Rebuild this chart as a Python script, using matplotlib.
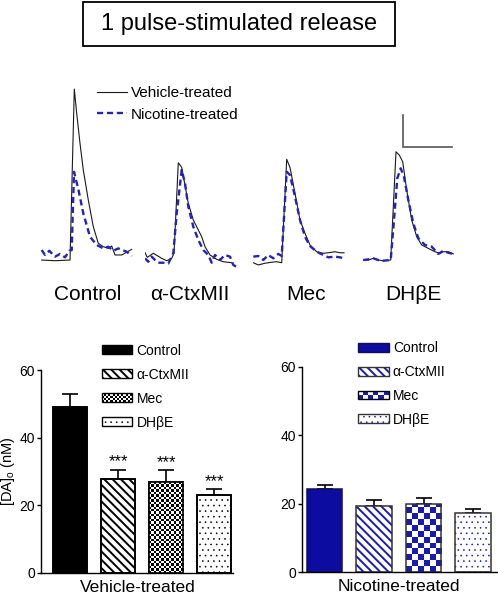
import numpy as np
import matplotlib
matplotlib.use('Agg')
import matplotlib.pyplot as plt
from matplotlib.patches import Rectangle, Patch
from matplotlib.lines import Line2D
from matplotlib.colors import ListedColormap
from matplotlib.legend_handler import HandlerBase

plt.rcParams['font.family'] = ['Liberation Sans', 'DejaVu Sans']
plt.rcParams['hatch.linewidth'] = 1.4

# ---------------- data ----------------
title = "1 pulse-stimulated release"
conditions = ["Control", "\u03b1-CtxMII", "Mec", "DH\u03b2E"]

# traces (time in arbitrary ms, signal in arbitrary units, baseline ~0)
veh_t = {
    "Control": [1.7, 15, 30, 34.3, 36.7, 40, 43.3, 48.3, 53.3, 58.3, 63.3, 68.3, 71.7, 75, 81.7, 91.7],
    "\u03b1-CtxMII": [0, 2.3, 8.3, 16.7, 21.7, 26.7, 29, 33.3, 36.7, 39, 43.3, 48.3, 53.3, 56.7, 60, 65, 71.7, 78.3, 86.7],
    "Mec": [0.3, 5.3, 12, 18.7, 23.7, 28.7, 33.7, 37, 42, 47, 52, 57, 63.7, 70.3, 75.3, 82, 87, 91],
    "DH\u03b2E": [0.3, 5.3, 10.3, 15.3, 20.3, 27.7, 33, 36.3, 39.7, 43.7, 48.7, 53.7, 58.7, 65.3, 72, 77, 80.3, 85.3, 90.3],
}
veh_v = {
    "Control": [-1.2, -1.6, -1.2, 100, 85.6, 67.9, 52.1, 34.3, 18.5, 8.7, 6.7, 5.7, 7.1, 1.8, 1.8, 5.1],
    "\u03b1-CtxMII": [3.1, 0.4, 2.8, -0.2, -1.6, -0.2, 2.8, 56.4, 53.7, 46.2, 32.4, 22.5, 16.6, 12.6, 6.7, 1.8, -0.8, -2.2, -2.8],
    "Mec": [-2.8, -4.1, -3.1, -2.5, -2.2, -2.8, 58.4, 53.6, 38.3, 22.5, 14.6, 7.7, 3.7, 2.8, 3.1, 3.7, 3.1, 3.1],
    "DH\u03b2E": [-1.2, -1.2, -0.2, -1.2, -1.6, -1.2, 62.9, 60.9, 57, 40.2, 22.5, 12.6, 7.7, 5.7, 3.7, 2.8, 3.7, 3.7, 2.4],
}
nic_t = {
    "Control": [1.7, 5, 9.3, 15, 20, 25, 29.3, 31.7, 34, 38.3, 43.3, 50, 56.7, 63.3, 68.3, 73.3, 78.3, 86.7, 91.7],
    "\u03b1-CtxMII": [0, 3.3, 6.7, 10, 13.3, 18.3, 23.3, 28.3, 31.7, 36.7, 40, 43.3, 48.3, 53.3, 58.3, 63.3, 66.7, 70, 75, 80, 85, 88.3, 91],
    "Mec": [0.3, 5.3, 10.3, 15.3, 20.3, 25.3, 28.7, 33.7, 37, 42, 47, 52, 57, 63.7, 70.3, 75.3, 82, 87, 91],
    "DH\u03b2E": [0.3, 5.3, 10.3, 15.3, 20.3, 27.7, 31, 34.3, 37.7, 41, 45.3, 50.3, 55.3, 62, 68.7, 75.3, 80.3, 85.3, 90.3],
}
nic_v = {
    "Control": [4.7, 1.8, 4.3, 0.8, 2.4, 0.4, 4.3, 4.7, 51, 40.8, 26.4, 12.6, 7.7, 5.7, 6.7, 4.3, 5.7, 3.7, 1.2],
    "\u03b1-CtxMII": [-0.2, -2.2, 0.8, -1.2, -2.8, -2.8, -3.2, 2.8, 26.4, 52.1, 44.2, 30.4, 18.5, 10.7, 4.7, 1.8, -2.8, 1.8, -1.2, 1.8, 0.8, -4.1, -5.1],
    "Mec": [0.8, 1.2, -1.2, 1.8, -0.2, 2.4, 1.2, 51.1, 49.1, 36.3, 22.5, 12.6, 7.1, 3.7, 1.8, 0.4, 0.8, 0.4, -0.2],
    "DH\u03b2E": [-1.2, -0.8, -0.2, -1.2, -1.6, -1.2, 22.5, 47.2, 53.1, 48.1, 34.3, 20.5, 11.7, 7.7, 6.7, 2.4, 4.3, 3.1, 2.4],
}
scale_amp = 18.7
scale_time = 48.4

# bar data ([DA]o, nM)
veh_mean = [49.2, 27.9, 26.9, 23.2]
veh_err = [3.7, 2.6, 3.4, 1.5]
nic_mean = [24.3, 19.4, 19.8, 17.2]
nic_err = [1.2, 1.8, 2.0, 1.2]
veh_sig = ["", "***", "***", "***"]
yticks = [0, 20, 40, 60]

# ---------------- figure ----------------
W, H = 498, 600
fig = plt.figure(figsize=(W / 100, H / 100), dpi=100)

def fbox(x0, y_top, w, h):
    return [x0 / W, 1 - (y_top + h) / H, w / W, h / H]

BLUE = '#0c0ca0'
HBLUE = '#1a1ab0'
TRACE_BLUE = '#2424b4'
DOT_HATCH = '...'
DIAG_HATCH = '\\\\\\\\'

def thin_dots(patches):
    for p in patches:
        if p.get_hatch() == DOT_HATCH and hasattr(p, 'set_hatch_linewidth'):
            p.set_hatch_linewidth(0.4)

# title box
fig.patches.append(Rectangle((83 / W, 1 - 46 / H), 312 / W, 44 / H, transform=fig.transFigure,
                             facecolor='white', edgecolor='black', lw=1.3))
fig.text(239 / W, 1 - 24 / H, title, ha='center', va='center', fontsize=17)

# traces
trace_left = [40, 145, 253, 363]
label_x = [88, 190, 306, 413]
for i, c in enumerate(conditions):
    ax = fig.add_axes(fbox(trace_left[i], 85, 93, 185))
    ax.plot(veh_t[c], veh_v[c], color='#1a1a1a', lw=0.8)
    ax.plot(nic_t[c], nic_v[c], color=TRACE_BLUE, lw=1.7, dashes=(2.6, 1.6))
    ax.set_xlim(0, 93)
    ax.set_ylim(-7.1, 102.4)
    ax.axis('off')
    fig.text(label_x[i] / W, 1 - 294 / H, c, ha='center', va='center', fontsize=15)
    if i == 3:
        sx, sy = 40.3, 65.9
        ax.plot([sx, sx, sx + scale_time], [sy + scale_amp, sy, sy], color='#555555', lw=1.2,
                solid_joinstyle='miter')

leg_handles = [Line2D([], [], color='#1a1a1a', lw=0.8),
               Line2D([], [], color=TRACE_BLUE, lw=1.7, dashes=(2.6, 1.6))]
fig.legend(leg_handles, ["Vehicle-treated", "Nicotine-treated"], loc='upper left',
           bbox_to_anchor=(96.7 / W, 1 - 86 / H), frameon=False, fontsize=11,
           handlelength=2.0, handletextpad=0.25, labelspacing=0.5, borderpad=0, borderaxespad=0)


class CheckerHandler(HandlerBase):
    def __init__(self, ncols, color, **kw):
        super().__init__(**kw)
        self.ncols = ncols
        self.color = color

    def create_artists(self, legend, orig_handle, xdescent, ydescent, width, height, fontsize, trans):
        arts = [Rectangle((-xdescent, -ydescent), width, height, facecolor='white', edgecolor='none',
                          transform=trans)]
        s = width / self.ncols
        nrows = max(1, int(round(height / s)))
        sh = height / nrows
        for i in range(self.ncols):
            for j in range(nrows):
                if (i + j) % 2 == 0:
                    arts.append(Rectangle((i * s - xdescent, j * sh - ydescent), s, sh,
                                          facecolor=self.color, edgecolor='none', transform=trans))
        arts.append(Rectangle((-xdescent, -ydescent), width, height, facecolor='none',
                              edgecolor='black', lw=1.0, transform=trans))
        return arts


def checker_fill(ax, bar, ncols, color):
    x0, y0, w, h = bar.get_x(), bar.get_y(), bar.get_width(), bar.get_height()
    p0 = ax.transData.transform((x0, y0))
    p1 = ax.transData.transform((x0 + w, y0 + h))
    pw, ph = p1 - p0
    cell = pw / ncols
    nrows = int(np.ceil(ph / cell))
    img = np.add.outer(np.arange(nrows), np.arange(ncols)) % 2
    top = ax.transData.inverted().transform((p0[0], p0[1] + nrows * cell))[1]
    im = ax.imshow(img, extent=(x0, x0 + w, y0, top), origin='lower',
                   cmap=ListedColormap([color, 'white']), interpolation='nearest',
                   aspect='auto', zorder=2.1)
    im.set_clip_path(bar)


def style_axes(ax, xlim):
    ax.set_xlim(*xlim)
    ax.set_ylim(0, 60)
    ax.set_yticks(yticks)
    ax.set_xticks([])
    for s in ['top', 'right']:
        ax.spines[s].set_visible(False)
    for s in ['left', 'bottom']:
        ax.spines[s].set_linewidth(1.0)
    ax.tick_params(axis='y', length=3, width=1.0, pad=1.5, labelsize=10)


x = np.arange(4)
bw = 0.71

# ---- vehicle-treated bars ----
axL = fig.add_axes(fbox(41, 370, 192, 203))
xlimL = (-0.604, 3.396)
style_axes(axL, xlimL)
barsL = axL.bar(x, veh_mean, bw, color=['black', 'white', 'white', 'white'], edgecolor='black',
                lw=1.2, hatch=[None, DIAG_HATCH, None, DOT_HATCH], zorder=2)
thin_dots(barsL)
checker_fill(axL, barsL[2], 14, 'black')
axL.bar(x, veh_mean, bw, color='none', edgecolor='black', lw=1.2, zorder=2.2)
axL.errorbar(x, veh_mean, yerr=[np.zeros(4), veh_err], fmt='none', ecolor='black',
             elinewidth=1.2, capsize=6, capthick=1.2, zorder=1.5)
for xi, m, e, s in zip(x, veh_mean, veh_err, veh_sig):
    if s:
        axL.text(xi, m + e + 0.2, s, ha='center', va='bottom', fontsize=12)
style_axes(axL, xlimL)
axL.set_ylabel(r'[DA]$_\mathregular{o}$ (nM)', fontsize=10.5)
axL.yaxis.set_label_coords(-0.125, 0.5)
axL.set_xlabel("Vehicle-treated", fontsize=12.5, labelpad=4)

dotL = Patch(facecolor='white', edgecolor='black', hatch=DOT_HATCH)
chkL = Patch(facecolor='white', edgecolor='black')
hL = [Patch(facecolor='black', edgecolor='black'),
      Patch(facecolor='white', edgecolor='black', hatch=DIAG_HATCH),
      chkL, dotL]
thin_dots([dotL])
legL = axL.legend(hL, conditions, loc='upper left', bbox_to_anchor=(0.316, 1.13), frameon=False,
                  fontsize=10, handlelength=2.2, handleheight=0.6, handletextpad=0.3, labelspacing=0.72,
                  borderpad=0, borderaxespad=0, handler_map={chkL: CheckerHandler(14, 'black')})
thin_dots(legL.get_patches())

# ---- nicotine-treated bars ----
axR = fig.add_axes(fbox(302, 367, 196, 205))
xlimR = (-0.455, 3.505)
style_axes(axR, xlimR)
barsR = axR.bar(x, nic_mean, bw, color=[BLUE, 'white', 'white', 'white'],
                edgecolor=[BLUE, HBLUE, HBLUE, HBLUE], lw=0,
                hatch=[None, DIAG_HATCH, None, DOT_HATCH], zorder=2)
thin_dots(barsR)
checker_fill(axR, barsR[2], 6, HBLUE)
axR.bar(x, nic_mean, bw, color='none', edgecolor=['#101050', '#333333', '#333333', '#333333'],
        lw=1.1, zorder=2.2)
axR.errorbar(x, nic_mean, yerr=[np.zeros(4), nic_err], fmt='none', ecolor='black',
             elinewidth=1.2, capsize=6, capthick=1.2, zorder=1.5)
style_axes(axR, xlimR)
axR.set_xlabel("Nicotine-treated", fontsize=12.5, labelpad=4)
axR.xaxis.set_label_coords((399 - 302) / 196, -0.035)
axR.xaxis.label.set_va('top')
axL.xaxis.set_label_coords((138 - 41) / 192, -0.035)
axL.xaxis.label.set_va('top')

border = Patch(facecolor='none', edgecolor='#333333', lw=1.0)
dotR = Patch(facecolor='white', edgecolor=HBLUE, hatch=DOT_HATCH, lw=0)
thin_dots([dotR])
hR = [(Patch(facecolor=BLUE, edgecolor='none'), Patch(facecolor='none', edgecolor='#101050', lw=1.0)),
      (Patch(facecolor='white', edgecolor=HBLUE, hatch=DIAG_HATCH, lw=0), border),
      Patch(facecolor='white', edgecolor='black'),
      (dotR, border)]
chkR = hR[2]
legR = axR.legend(hR, conditions, loc='upper left', bbox_to_anchor=(0.286, 1.125), frameon=False,
                  fontsize=10, handlelength=2.2, handleheight=0.6, handletextpad=0.3, labelspacing=0.7,
                  borderpad=0, borderaxespad=0, handler_map={chkR: CheckerHandler(6, HBLUE)})
thin_dots(legR.get_patches())

fig.savefig('out.png', dpi=100)
